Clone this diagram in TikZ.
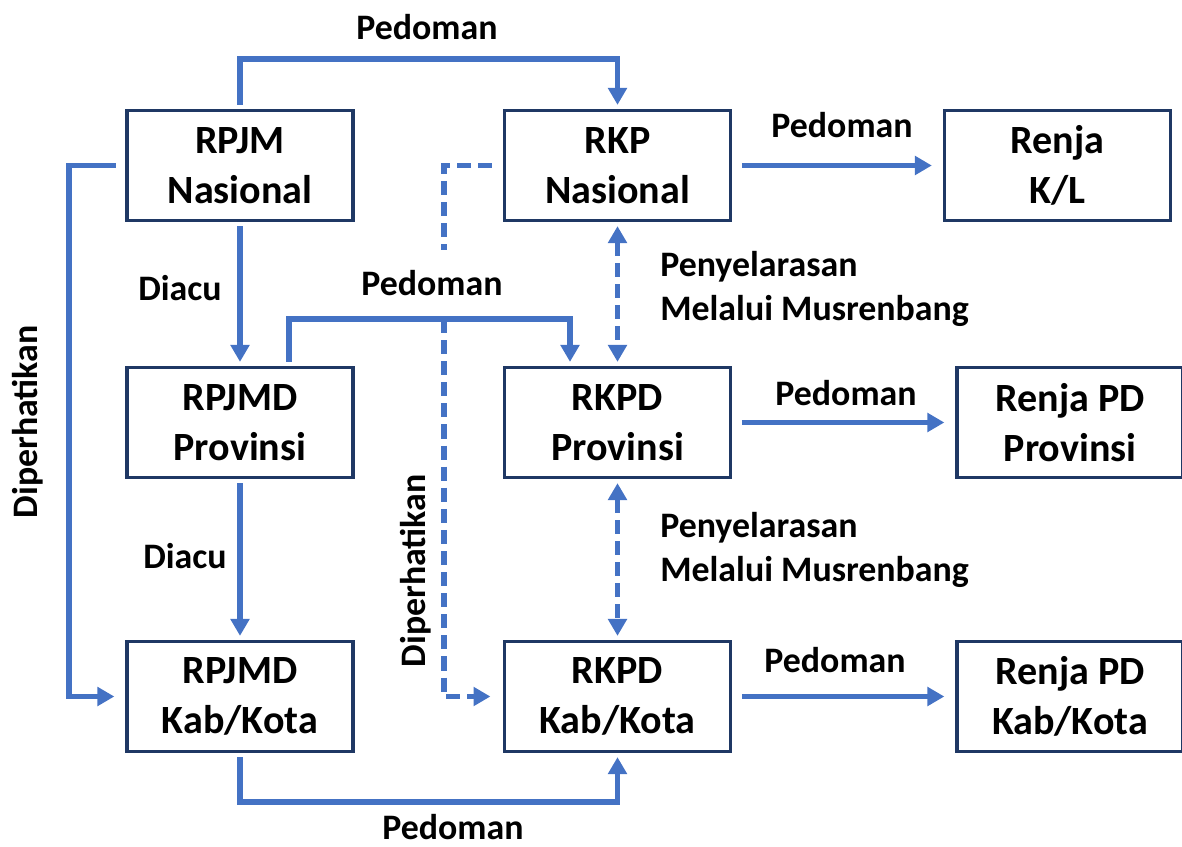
\documentclass[tikz,border=0pt]{standalone}
\usepackage{fontspec}
\setmainfont{Carlito}
\usetikzlibrary{arrows.meta}
\definecolor{lineblue}{HTML}{4472C4}
\definecolor{boxnavy}{HTML}{1F3864}

\begin{document}
\begin{tikzpicture}[x=0.025cm, y=-0.025cm,
  box/.style={draw=boxnavy, line width=2.6pt, minimum width=5.65cm, minimum height=2.75cm,
    align=center, inner sep=0pt, outer sep=4pt, font=\bfseries\fontsize{28.5}{35.6}\selectfont},
  lbl/.style={inner sep=0pt, font=\bfseries\fontsize{25.5}{30.6}\selectfont},
  link/.style={draw=lineblue, line width=4pt},
  arr/.style={link, -{Triangle[length=12pt,width=13pt]}},
  dashlink/.style={link, dash pattern=on 10pt off 5pt}]
\useasboundingbox (0,0) rectangle (1182,847);

\node[box] (rpjmn) at (240,165.5) {RPJM\\Nasional};
\node[box] (rkpn) at (617.5,165.5) {RKP\\Nasional};
\node[box] (renjakl) at (1057.5,165.5) {Renja\\K/L};
\node[box] (rpjmdp) at (240,422.5) {RPJMD\\Provinsi};
\node[box] (rkpdp) at (617.5,422.5) {RKPD\\Provinsi};
\node[box] (renjap) at (1070,422.5) {Renja PD\\Provinsi};
\node[box] (rpjmdk) at (240,696.5) {RPJMD\\Kab/Kota};
\node[box] (rkpdk) at (617.5,696.5) {RKPD\\Kab/Kota};
\node[box] (renjak) at (1070,696.5) {Renja PD\\Kab/Kota};

\coordinate (topbend) at (0,59);
\coordinate (leftbend) at (69,0);
\coordinate (midbend) at (289,319);
\coordinate (midend) at (570,0);
\coordinate (dashend) at (444,250);
\coordinate (dashtop) at (444,319);
\coordinate (botbend) at (0,802);

% solid connectors
\draw[arr] (rpjmn.north) -- (rpjmn.north |- topbend) -| (rkpn.north);
\draw[arr, shorten <=4pt, shorten >=5pt] (rpjmn.west) -- (rpjmn.west -| leftbend) |- (rpjmdk.west);
\draw[arr] (rpjmn.south) -- (rpjmdp.north);
\draw[arr] (rpjmdp.south) -- (rpjmdk.north);
\draw[arr] (rpjmdp.north -| midbend) -- (midbend) -| (rkpdp.north -| midend);
\draw[arr] (rpjmdk.south) -- (rpjmdk.south |- botbend) -| (rkpdk.south);
\draw[arr, shorten <=4pt, shorten >=5pt] (rkpn.east) -- (renjakl.west);
\draw[arr, shorten <=4pt, shorten >=5pt] (rkpdp.east) -- (renjap.west);
\draw[arr, shorten <=4pt, shorten >=5pt] (rkpdk.east) -- (renjak.west);

% dashed connectors
\draw[dashlink, shorten <=5pt] (rkpn.west) -| (dashend);
\draw[dashlink, -{Triangle[length=12pt,width=13pt]}, shorten >=6pt] (dashtop) |- (rkpdk.west);
\draw[dashlink, {Triangle[length=12pt,width=13pt]}-{Triangle[length=12pt,width=13pt]}] (rkpn.south) -- (rkpdp.north);
\draw[dashlink, {Triangle[length=12pt,width=13pt]}-{Triangle[length=12pt,width=13pt]}] (rkpdp.south) -- (rkpdk.north);

\node[lbl, anchor=base] (ped1) at (427,40) {Pedoman};
\node[lbl, anchor=base] (ped2) at (842,138) {Pedoman};
\node[lbl, anchor=base] (ped3) at (432,295) {Pedoman};
\node[lbl, anchor=base] (ped4) at (846,405) {Pedoman};
\node[lbl, anchor=base] (ped5) at (835,672) {Pedoman};
\node[lbl, anchor=base] (ped6) at (453,839) {Pedoman};
\node[lbl, anchor=base] (diacu1) at (180,300) {Diacu};
\node[lbl, anchor=base] (diacu2) at (185,568) {Diacu};
\node[lbl, anchor=base west, align=left] (sel1) at (660,320) {Penyelarasan\\Melalui Musrenbang};
\node[lbl, anchor=base west, align=left] (sel2) at (660,581) {Penyelarasan\\Melalui Musrenbang};
\node[lbl, rotate=90] (dip1) at (28,422) {Diperhatikan};
\node[lbl, rotate=90] (dip2) at (416,571) {Diperhatikan};
\end{tikzpicture}
\end{document}
